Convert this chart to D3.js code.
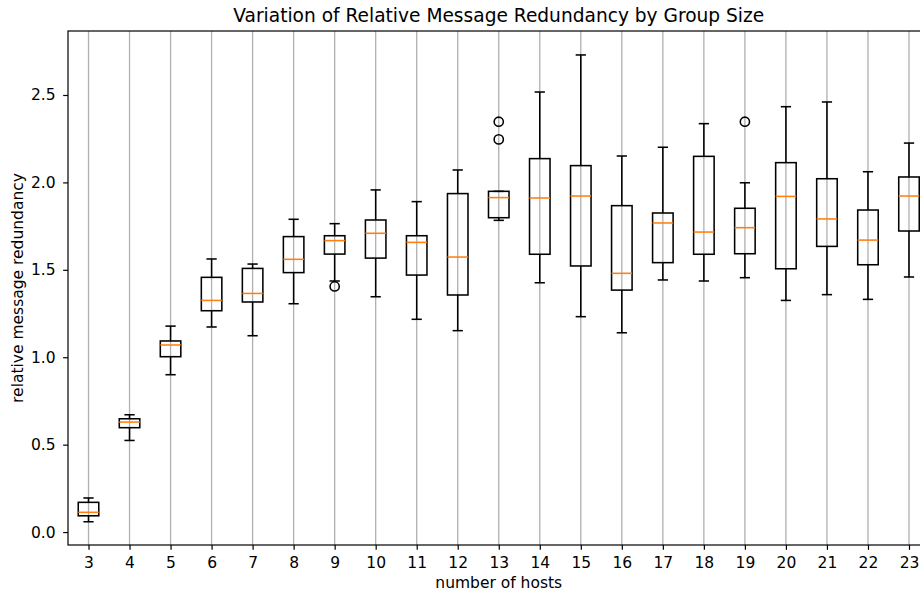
<!DOCTYPE html>
<html>
<head>
<meta charset="utf-8">
<script src="https://cdn.jsdelivr.net/npm/d3@7"></script>
<style>
  html, body { margin: 0; padding: 0; background: #fff; }
  svg { display: block; }
  text { font-family: "DejaVu Sans", sans-serif; fill: #000; }
</style>
</head>
<body>
<svg id="chart" width="920" height="594"></svg>
<script>
// ---- data ----
const categories = [3, 4, 5, 6, 7, 8, 9, 10, 11, 12, 13, 14, 15, 16, 17, 18, 19, 20, 21, 22, 23];
const whiskerLow  = [0.059, 0.524, 0.900, 1.173, 1.123, 1.306, 1.436, 1.346, 1.217, 1.152, 1.783, 1.426, 1.232, 1.140, 1.442, 1.436, 1.455, 1.325, 1.358, 1.331, 1.459];
const q1          = [0.093, 0.597, 1.003, 1.266, 1.316, 1.484, 1.590, 1.567, 1.470, 1.356, 1.798, 1.589, 1.522, 1.384, 1.541, 1.589, 1.592, 1.506, 1.634, 1.529, 1.722];
const medians     = [0.113, 0.629, 1.070, 1.325, 1.365, 1.560, 1.667, 1.709, 1.657, 1.573, 1.913, 1.911, 1.922, 1.480, 1.768, 1.716, 1.741, 1.920, 1.791, 1.670, 1.922];
const q3          = [0.170, 0.648, 1.093, 1.457, 1.508, 1.690, 1.695, 1.785, 1.695, 1.936, 1.949, 2.136, 2.096, 1.867, 1.825, 2.149, 1.852, 2.113, 2.021, 1.842, 2.031];
const whiskerHigh = [0.195, 0.671, 1.178, 1.562, 1.533, 1.789, 1.764, 1.957, 1.890, 2.071, 1.949, 2.517, 2.729, 2.151, 2.201, 2.336, 1.998, 2.433, 2.460, 2.061, 2.225];
const fliers      = [[], [], [], [], [], [], [1.405], [], [], [], [2.347, 2.246], [], [], [], [], [], [2.347], [], [], [], []];
const yTicks = [0.0, 0.5, 1.0, 1.5, 2.0, 2.5];
const titleText = "Variation of Relative Message Redundancy by Group Size";
const xLabel = "number of hosts";
const yLabel = "relative message redundancy";

// ---- layout ----
const svg = d3.select("#chart");
const pLeft = 68, pRight = 929.5, pTop = 31, pBottom = 545;
const tickFont = 15.5, titleFont = 18.6;
const lw = 1.55;
const x = d3.scaleLinear().domain([0.5, categories.length + 0.5]).range([pLeft, pRight]);
const y = d3.scaleLinear().domain([-0.074, 2.866]).range([pBottom, pTop]);
const boxW = x(1.5) - x(1);   // width 0.5 in data units
const capW = boxW / 2;

// grid (vertical only)
svg.append("g").selectAll("line").data(categories).join("line")
  .attr("x1", (d, i) => x(i + 1)).attr("x2", (d, i) => x(i + 1))
  .attr("y1", pTop).attr("y2", pBottom)
  .attr("stroke", "#b0b0b0").attr("stroke-width", 1.3);

// axes
const xAxis = d3.axisBottom(x)
  .tickValues(categories.map((d, i) => i + 1))
  .tickFormat((d, i) => String(categories[i]))
  .tickSize(4.86).tickPadding(4.86).tickSizeOuter(0);
const yAxis = d3.axisLeft(y)
  .tickValues(yTicks).tickFormat(d3.format(".1f"))
  .tickSize(4.86).tickPadding(7.5).tickSizeOuter(0);

const gx = svg.append("g").attr("transform", `translate(0,${pBottom})`).call(xAxis);
const gy = svg.append("g").attr("transform", `translate(${pLeft},0)`).call(yAxis);
[gx, gy].forEach(g => {
  g.select(".domain").remove();
  g.selectAll(".tick line").attr("stroke", "#000").attr("stroke-width", 1.2);
  g.selectAll(".tick text").attr("font-family", "DejaVu Sans").attr("font-size", tickFont).attr("fill", "#000");
});
gx.selectAll(".tick text").attr("y", 22.5).attr("dy", null);

// spines
svg.append("rect").attr("x", pLeft).attr("y", pTop)
  .attr("width", pRight - pLeft).attr("height", pBottom - pTop)
  .attr("fill", "none").attr("stroke", "#000").attr("stroke-width", 1.2);

// boxes
const gBoxes = svg.append("g");
categories.forEach((c, i) => {
  const cx = x(i + 1);
  const bg = gBoxes.append("g");
  const line = (x1, y1, x2, y2, color) => bg.append("line")
    .attr("x1", x1).attr("y1", y1).attr("x2", x2).attr("y2", y2)
    .attr("stroke", color || "#000").attr("stroke-width", lw);
  // whiskers
  line(cx, y(q1[i]), cx, y(whiskerLow[i]));
  line(cx, y(q3[i]), cx, y(whiskerHigh[i]));
  // caps
  line(cx - capW / 2, y(whiskerLow[i]), cx + capW / 2, y(whiskerLow[i]));
  line(cx - capW / 2, y(whiskerHigh[i]), cx + capW / 2, y(whiskerHigh[i]));
  // box
  bg.append("rect")
    .attr("x", cx - boxW / 2).attr("y", y(q3[i]))
    .attr("width", boxW).attr("height", y(q1[i]) - y(q3[i]))
    .attr("fill", "none").attr("stroke", "#000").attr("stroke-width", lw);
  // median
  line(cx - boxW / 2, y(medians[i]), cx + boxW / 2, y(medians[i]), "#ff7f0e");
  // fliers
  fliers[i].forEach(f => {
    bg.append("circle").attr("cx", cx).attr("cy", y(f)).attr("r", 4.6)
      .attr("fill", "none").attr("stroke", "#000").attr("stroke-width", lw);
  });
});

// title and labels
svg.append("text").attr("x", (pLeft + pRight) / 2).attr("y", 21.5)
  .attr("text-anchor", "middle").attr("font-size", titleFont).text(titleText);
svg.append("text").attr("x", (pLeft + pRight) / 2).attr("y", 588)
  .attr("text-anchor", "middle").attr("font-size", tickFont).text(xLabel);
svg.append("text").attr("transform", `translate(23,${(pTop + pBottom) / 2}) rotate(-90)`)
  .attr("text-anchor", "middle").attr("font-size", tickFont).text(yLabel);
</script>
</body>
</html>
